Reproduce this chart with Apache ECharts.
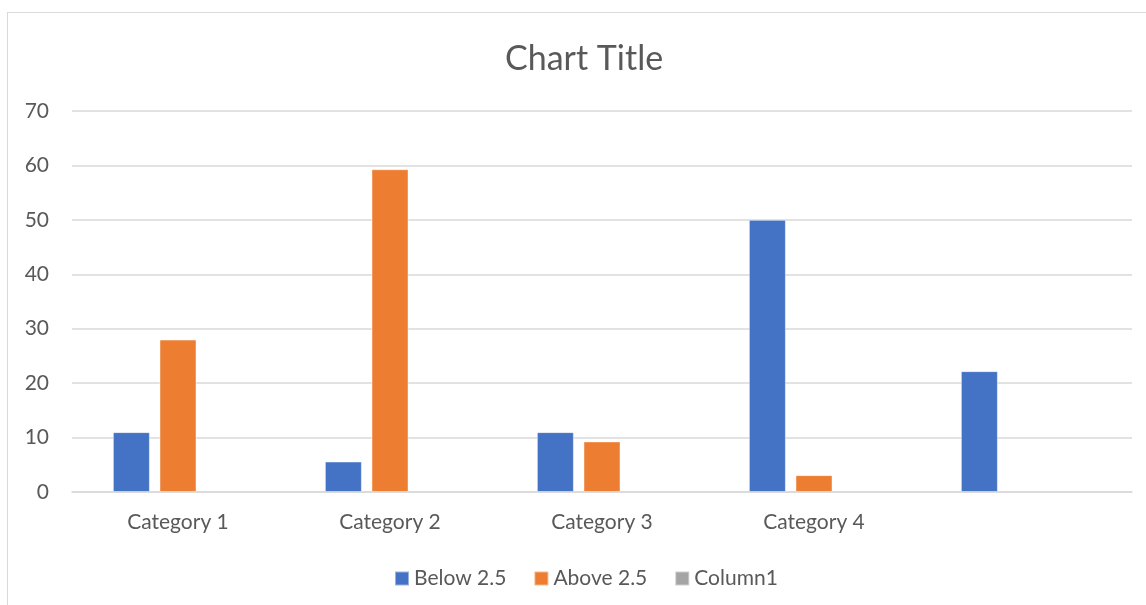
<!DOCTYPE html>
<html>
<head>
<meta charset="utf-8">
<title>Chart Title</title>
<script src="https://cdn.jsdelivr.net/npm/echarts@6/dist/echarts.min.js"></script>
<style>
  html, body { margin: 0; padding: 0; background: #ffffff; }
  #frame {
    position: absolute; left: 7px; top: 12px; width: 1200px; height: 700px;
    border-left: 1px solid #d9d9d9; border-top: 1px solid #d9d9d9;
  }
  #chart { position: absolute; left: 0; top: 0; width: 1146px; height: 605px; }
</style>
</head>
<body>
<div id="frame"></div>
<div id="chart"></div>
<script>
  /* ---------- 資料 ---------- */
  const categories = ['Category 1', 'Category 2', 'Category 3', 'Category 4', ''];
  const below25 = [11, 5.6, 11, 50, 22.2];
  const above25 = [28, 59.3, 9.3, 3.1, null];
  const column1 = [null, null, null, null, null];
  const yTicks = { min: 0, max: 70, interval: 10 };

  const FONT = 'Lato, "Liberation Sans", sans-serif';
  const TEXT = '#595959';
  const LINE = '#d9d9d9';

  function barSeries(name, data, color) {
    return {
      name: name,
      type: 'bar',
      data: data,
      barWidth: 37,
      barGap: '26%',
      itemStyle: { color: color, borderColor: 'rgba(255,255,255,0.45)', borderWidth: 1 },
    };
  }

  const chart = echarts.init(document.getElementById('chart'), null, { renderer: 'canvas' });
  chart.setOption({
    backgroundColor: 'transparent',
    animation: false,
    textStyle: { fontFamily: FONT, color: TEXT },
    title: {
      text: 'Chart Title',
      left: 500,
      top: 37,
      textStyle: { fontFamily: FONT, fontSize: 34, fontWeight: 'normal', color: TEXT },
    },
    grid: { left: 72, right: 14, top: 111, bottom: 113 },
    legend: {
      data: ['Below 2.5', 'Above 2.5', 'Column1'],
      top: 563,
      left: 389,
      icon: 'rect',
      itemWidth: 14,
      itemHeight: 14,
      itemGap: 27,
      textStyle: { fontFamily: FONT, fontSize: 21, color: TEXT },
    },
    xAxis: {
      type: 'category',
      data: categories,
      axisLine: { lineStyle: { color: LINE, width: 1.5 } },
      axisTick: { show: false },
      axisLabel: { fontFamily: FONT, fontSize: 21, color: TEXT, margin: 20, interval: 0 },
    },
    yAxis: {
      type: 'value',
      min: yTicks.min,
      max: yTicks.max,
      interval: yTicks.interval,
      axisLine: { show: false },
      axisTick: { show: false },
      axisLabel: { fontFamily: FONT, fontSize: 21, color: TEXT, margin: 23 },
      splitLine: { lineStyle: { color: LINE, width: 1.5 } },
    },
    series: [
      barSeries('Below 2.5', below25, '#4472c4'),
      barSeries('Above 2.5', above25, '#ed7d31'),
      barSeries('Column1', column1, '#a5a5a5'),
    ],
  });
</script>
</body>
</html>
